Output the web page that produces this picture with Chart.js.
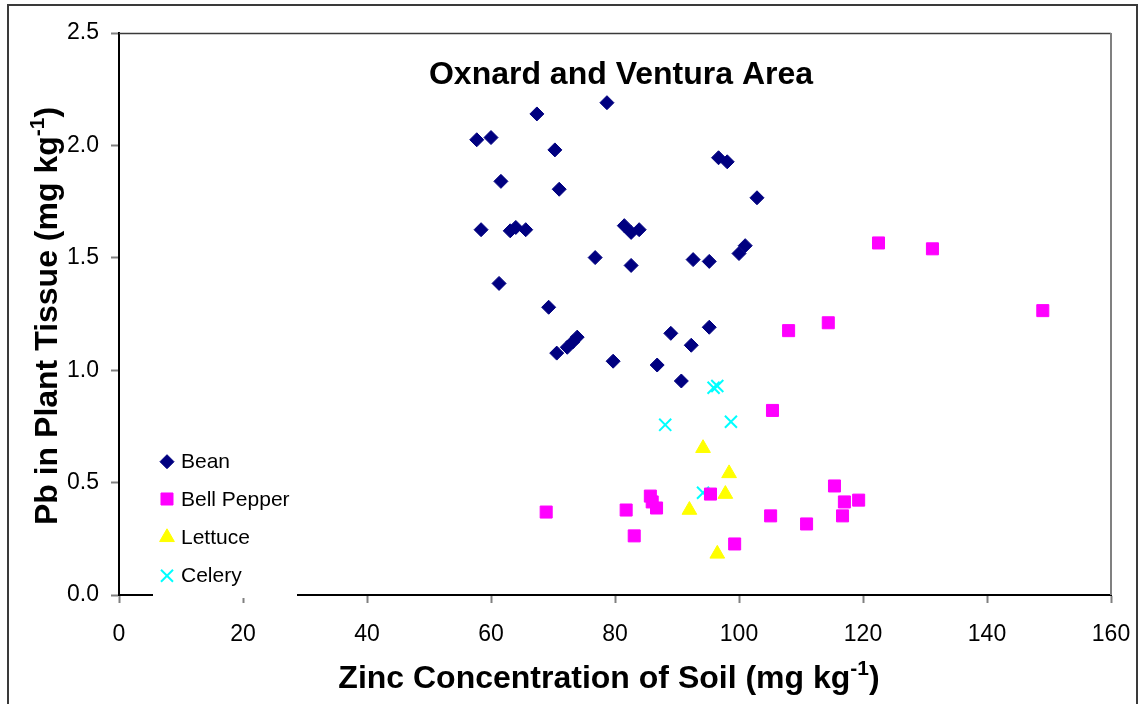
<!DOCTYPE html>
<html>
<head>
<meta charset="utf-8">
<script src="https://cdn.jsdelivr.net/npm/chart.js@4.4.1/dist/chart.umd.min.js"></script>
<style>
  html, body { margin: 0; padding: 0; background: #fff; }
  #wrap { width: 1139px; height: 704px; }
</style>
</head>
<body>
<div id="wrap"><canvas id="chart" width="1139" height="704"></canvas></div>
<script>
// values
var beanX = [78.7, 67.4, 57.7, 60.0, 70.3, 61.6, 71.0, 96.7, 98.1, 102.9, 58.4, 63.1, 64.0, 65.6, 81.5, 82.6, 83.9,
             76.8, 82.6, 92.6, 95.2, 100.0, 101.0, 61.3, 69.3, 73.9, 73.2, 72.3, 70.6, 79.7, 89.0, 92.3, 95.2, 86.8, 90.7];
var beanY = [2.19, 2.14, 2.025, 2.035, 1.98, 1.84, 1.805, 1.945, 1.927, 1.767, 1.625, 1.62, 1.635, 1.625, 1.643, 1.613, 1.625,
             1.501, 1.466, 1.492, 1.484, 1.519, 1.554, 1.386, 1.28, 1.147, 1.126, 1.102, 1.076, 1.04, 1.164, 1.111, 1.191, 1.023, 0.952];

var pepperX = [108.0, 105.4, 95.4, 85.7, 86.0, 86.7, 81.8, 68.9, 83.1, 105.1, 99.3, 122.5, 131.2, 114.4, 149.0, 115.4, 117.0, 119.3, 116.7, 110.9];
var pepperY = [1.176, 0.821, 0.449, 0.44, 0.414, 0.387, 0.378, 0.369, 0.263, 0.352, 0.227, 1.566, 1.54, 1.211, 1.265, 0.485, 0.414, 0.422, 0.352, 0.316];

var lettuceX = [94.2, 98.4, 97.8, 92.0, 96.5];
var lettuceY = [0.653, 0.541, 0.449, 0.378, 0.183];

var celeryX = [95.9, 96.5, 88.1, 98.7, 94.2];
var celeryY = [0.922, 0.93, 0.757, 0.771, 0.455];

var xTicks = [0, 20, 40, 60, 80, 100, 120, 140, 160];
var yTicks = [0, 0.5, 1.0, 1.5, 2.0, 2.5];

var chartTitle = 'Oxnard and Ventura Area';
var xTitle = ['Zinc Concentration of Soil (mg kg', '-1', ')'];
var yTitle = ['Pb in Plant Tissue (mg kg', '-1', ')'];

var FONT = "'Liberation Sans', Arial, sans-serif";

function pts(xs, ys) {
  return xs.map(function (x, i) { return { x: x, y: ys[i] }; });
}

// title with a superscript piece, centred on cx, sitting on baseline base
function supText(ctx, parts, cx, base) {
  ctx.font = 'bold 32px ' + FONT;
  var w0 = ctx.measureText(parts[0]).width;
  var w2 = ctx.measureText(parts[2]).width;
  ctx.font = 'bold 21px ' + FONT;
  var w1 = ctx.measureText(parts[1]).width;
  var x = cx - (w0 + w1 + w2) / 2;
  ctx.textAlign = 'left';
  ctx.textBaseline = 'alphabetic';
  ctx.font = 'bold 32px ' + FONT;
  ctx.fillText(parts[0], x, base);
  ctx.font = 'bold 21px ' + FONT;
  ctx.fillText(parts[1], x + w0, base - 13);
  ctx.font = 'bold 32px ' + FONT;
  ctx.fillText(parts[2], x + w0 + w1, base);
}

var decorations = {
  id: 'decorations',
  afterDraw: function (chart) {
    var ctx = chart.ctx;
    var a = chart.chartArea;
    ctx.save();

    // plot area frame (top dark, right grey)
    ctx.strokeStyle = '#3a3a3a';
    ctx.lineWidth = 1.5;
    ctx.beginPath();
    ctx.moveTo(a.left, a.top + 0.5);
    ctx.lineTo(a.right, a.top + 0.5);
    ctx.stroke();
    ctx.strokeStyle = '#808080';
    ctx.lineWidth = 2;
    ctx.beginPath();
    ctx.moveTo(a.right, a.top);
    ctx.lineTo(a.right, a.bottom);
    ctx.stroke();

    // outer frame
    ctx.strokeStyle = '#3a3a3a';
    ctx.lineWidth = 2;
    ctx.strokeRect(8, 5, 1129, 720);

    // titles
    ctx.fillStyle = '#000';
    ctx.font = 'bold 32px ' + FONT;
    ctx.textAlign = 'center';
    ctx.textBaseline = 'alphabetic';
    ctx.fillText(chartTitle, 621, 84);

    supText(ctx, xTitle, 609, 688);

    ctx.save();
    ctx.translate(57, 316);
    ctx.rotate(-Math.PI / 2);
    supText(ctx, yTitle, 0, 0);
    ctx.restore();

    // legend box sits over the axis line
    ctx.fillStyle = '#fff';
    ctx.fillRect(153, 440, 144, 158);
    var rows = [461.7, 499, 537.3, 575.7];
    chart.data.datasets.forEach(function (ds, i) {
      ctx.fillStyle = ds.backgroundColor;
      ctx.strokeStyle = ds.borderColor;
      ctx.lineWidth = ds.borderWidth;
      Chart.helpers.drawPoint(ctx, {
        pointStyle: ds.pointStyle, radius: ds.pointRadius, borderWidth: ds.borderWidth, rotation: 0
      }, 167, rows[i]);
      ctx.fillStyle = '#000';
      ctx.font = '21px ' + FONT;
      ctx.textAlign = 'left';
      ctx.textBaseline = 'middle';
      ctx.fillText(ds.label, 181, rows[i] + 1);
    });
    ctx.restore();
  }
};

var ctx = document.getElementById('chart').getContext('2d');
var chart = new Chart(ctx, {
  type: 'scatter',
  data: {
    datasets: [
      { label: 'Bean', data: pts(beanX, beanY), pointStyle: 'rectRot', pointRadius: 7,
        backgroundColor: '#000080', borderColor: '#000080', borderWidth: 1 },
      { label: 'Bell Pepper', data: pts(pepperX, pepperY), pointStyle: 'rect', pointRadius: 8.5,
        backgroundColor: '#ff00ff', borderColor: '#ff00ff', borderWidth: 1 },
      { label: 'Lettuce', data: pts(lettuceX, lettuceY), pointStyle: 'triangle', pointRadius: 8.5,
        backgroundColor: '#ffff00', borderColor: '#ffff00', borderWidth: 1 },
      { label: 'Celery', data: pts(celeryX, celeryY), pointStyle: 'crossRot', pointRadius: 8.5,
        backgroundColor: '#00ffff', borderColor: '#00ffff', borderWidth: 2 }
    ]
  },
  options: {
    responsive: false,
    animation: false,
    devicePixelRatio: 1,
    events: [],
    layout: { autoPadding: false, padding: { top: 33, right: 28, bottom: 0, left: 0 } },
    plugins: {
      legend: { display: false },
      title: { display: false },
      tooltip: { enabled: false }
    },
    scales: {
      x: {
        type: 'linear',
        min: 0, max: 160,
        afterBuildTicks: function (s) { s.ticks = xTicks.map(function (v) { return { value: v }; }); },
        afterFit: function (s) { s.height = 109; s.paddingLeft = 0; s.paddingRight = 0; },
        ticks: { color: '#000', font: { family: FONT, size: 23 }, padding: 18, maxRotation: 0 },
        grid: { drawOnChartArea: false, drawTicks: true, tickLength: 8, tickColor: '#808080', tickWidth: 2 },
        border: { display: true, color: '#000', width: 2 }
      },
      y: {
        type: 'linear',
        min: 0, max: 2.5,
        afterBuildTicks: function (s) { s.ticks = yTicks.map(function (v) { return { value: v }; }); },
        afterFit: function (s) { s.width = 119; s.paddingTop = 0; s.paddingBottom = 0; },
        ticks: { color: '#000', font: { family: FONT, size: 23 }, padding: 12,
                 callback: function (v) { return v.toFixed(1); } },
        grid: { drawOnChartArea: false, drawTicks: true, tickLength: 8, tickColor: '#808080', tickWidth: 2 },
        border: { display: true, color: '#000', width: 2 }
      }
    }
  },
  plugins: [decorations]
});
</script>
</body>
</html>
